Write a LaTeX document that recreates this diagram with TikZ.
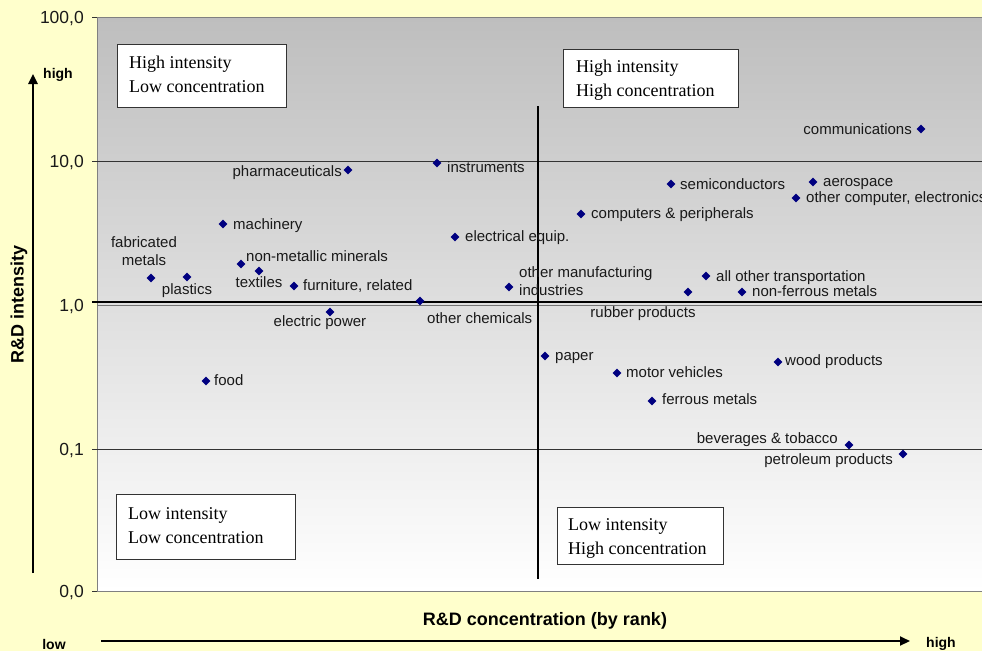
\documentclass[tikz,border=0pt]{standalone}
\usepackage{fontspec}
\setmainfont{Liberation Serif}
\newfontfamily\arial{Liberation Sans}
\usetikzlibrary{shapes.geometric,arrows.meta}
\definecolor{bgyellow}{RGB}{255,255,204}
\definecolor{navyblue}{RGB}{0,0,128}
\definecolor{plotgray}{RGB}{190,190,190}
\definecolor{bordergray}{RGB}{128,128,128}
\begin{document}
\begin{tikzpicture}[x=1pt,y=-1pt,
 mk/.style={diamond, fill=navyblue, minimum size=9pt, inner sep=0pt},
 lab/.style={font=\arial\fontsize{15}{18}\selectfont, inner sep=0pt, text=black!90},
 labm/.style={lab, yshift=-2.5pt},
 ticklab/.style={font=\arial\fontsize{17.5}{20}\selectfont, inner sep=0pt, anchor=east, text=black!90},
 quadtext/.style={font=\fontsize{18}{24}\selectfont, align=left, inner sep=0pt, anchor=north west},
 quadframe/.style={draw=black!80, fill=white, line width=0.9pt},
 axlab/.style={font=\arial\bfseries\fontsize{18}{20}\selectfont, inner sep=0pt},
 endlab/.style={font=\arial\bfseries\fontsize{14}{16}\selectfont, inner sep=0pt},
 gridline/.style={draw=black!80, line width=0.8pt},
 arr/.style={line width=2.4pt, -{Triangle[length=10pt,width=9pt]}}
]
\useasboundingbox (0,0) rectangle (982,651);
\fill[bgyellow] (0,0) rectangle (982,651);
% plot area
\shade[top color=plotgray, bottom color=white] (97,17) rectangle (982,591);
\draw[bordergray, line width=1pt] (982,17) -- (97,17) -- (97,591) -- (982,591);
% grid lines and ticks
\draw[gridline] (92,161) -- (982,161);
\draw[gridline, line width=1.3pt, draw=black] (92,302) -- (982,302);
\draw[draw=black!55, line width=1.2pt] (97,305.5) -- (982,305.5);
\draw[gridline] (92,449) -- (982,449);
\draw[gridline] (92,17) -- (97,17);
\draw[gridline] (92,591) -- (97,591);
% vertical separator
\coordinate (vtop) at (538,106);
\coordinate (vbot) at (538,579);
\draw[black, line width=1.3pt] (vtop) -- (vbot);
% tick labels
\node[ticklab] (t100) at (84,18.5) {100,0};
\node[ticklab] (t10) at (84,162.5) {10,0};
\node[ticklab] (t1) at (84,306.5) {1,0};
\node[ticklab] (t01) at (84,450.5) {0,1};
\node[ticklab] (t00) at (84,592.5) {0,0};
% quadrant boxes
\draw[quadframe] (117,44) rectangle (286,107);
\node[quadtext] (hilc) at (129,56) {High intensity\\Low concentration};
\draw[quadframe] (563,49) rectangle (738,107);
\node[quadtext] (hihc) at (576,60) {High intensity\\High concentration};
\draw[quadframe] (116,494) rectangle (295,559);
\node[quadtext] (lilc) at (128,507) {Low intensity\\Low concentration};
\draw[quadframe] (557,507) rectangle (723,564);
\node[quadtext] (lihc) at (568,518) {Low intensity\\High concentration};
% axes arrows
\coordinate (ya0) at (33,573);
\coordinate (ya1) at (33,74);
\draw[arr] (ya0) -- (ya1);
\coordinate (xa0) at (101,641);
\coordinate (xa1) at (910,641);
\draw[arr, line width=2pt] (xa0) -- (xa1);
\node[endlab] (yhigh) at (58,75) {high};
\node[endlab] (xlow) at (54,644) {low};
\node[endlab] (xhigh) at (941,644) {high};
\node[axlab, rotate=90] (ylab) at (19,304) {R\&D intensity};
\node[axlab] (xlab) at (545,621) {R\&D concentration (by rank)};
% data points
\node[mk] (fab) at (151,278) {};
\node[lab, align=center] (fabl) at (144,251) {fabricated\\metals};
\node[mk] (pla) at (187,277) {};
\node[labm, anchor=mid] (plal) at (187,290) {plastics};
\node[mk] (mac) at (223,224) {};
\node[labm, anchor=mid west] (macl) at (233,225) {machinery};
\node[mk] (nmm) at (241,264) {};
\node[labm, anchor=mid west] (nmml) at (246,257) {non-metallic minerals};
\node[mk] (tex) at (259,271) {};
\node[labm, anchor=mid] (texl) at (259,283) {textiles};
\node[mk] (fur) at (294,286) {};
\node[labm, anchor=mid west] (furl) at (303,286) {furniture, related};
\node[mk] (elp) at (330,312) {};
\node[labm, anchor=mid] (elpl) at (320,322) {electric power};
\node[mk] (pha) at (348,170) {};
\node[labm, anchor=mid east] (phal) at (342,172) {pharmaceuticals};
\node[mk] (ins) at (437,163) {};
\node[labm, anchor=mid west] (insl) at (447,168) {instruments};
\node[mk] (ele) at (455,237) {};
\node[labm, anchor=mid west] (elel) at (465,237) {electrical equip.};
\node[mk] (och) at (420,301) {};
\node[labm, anchor=mid west] (ochl) at (427,319) {other chemicals};
\node[mk] (omi) at (509,287) {};
\node[lab, anchor=west, align=left] (omil) at (519,281) {other manufacturing\\industries};
\node[mk] (pap) at (545,356) {};
\node[labm, anchor=mid west] (papl) at (555,356) {paper};
\node[mk] (cmp) at (581,214) {};
\node[labm, anchor=mid west] (cmpl) at (591,214) {computers \& peripherals};
\node[mk] (sem) at (671,184) {};
\node[labm, anchor=mid west] (seml) at (680,185) {semiconductors};
\node[mk] (aer) at (813,182) {};
\node[labm, anchor=mid west] (aerl) at (823,182) {aerospace};
\node[mk] (oce) at (796,198) {};
\node[labm, anchor=mid west] (ocel) at (806,198) {other computer, electronics};
\node[mk] (com) at (921,129) {};
\node[labm, anchor=mid east] (coml) at (912,130) {communications};
\node[mk] (aot) at (706,276) {};
\node[labm, anchor=mid west] (aotl) at (716,277) {all other transportation};
\node[mk] (rub) at (688,292) {};
\node[labm, anchor=mid] (rubl) at (643,313) {rubber products};
\node[mk] (nfm) at (742,292) {};
\node[labm, anchor=mid west] (nfml) at (752,292) {non-ferrous metals};
\node[mk] (mot) at (617,373) {};
\node[labm, anchor=mid west] (motl) at (626,373) {motor vehicles};
\node[mk] (fer) at (652,401) {};
\node[labm, anchor=mid west] (ferl) at (662,400) {ferrous metals};
\node[mk] (woo) at (778,362) {};
\node[labm, anchor=mid west] (wool) at (785,361) {wood products};
\node[mk] (bev) at (849,445) {};
\node[labm, anchor=mid east] (bevl) at (838,439) {beverages \& tobacco};
\node[mk] (pet) at (903,454) {};
\node[labm, anchor=mid east] (petl) at (893,460) {petroleum products};
\node[mk] (foo) at (206,381) {};
\node[labm, anchor=mid west] (fool) at (214,381) {food};
\end{tikzpicture}
\end{document}
